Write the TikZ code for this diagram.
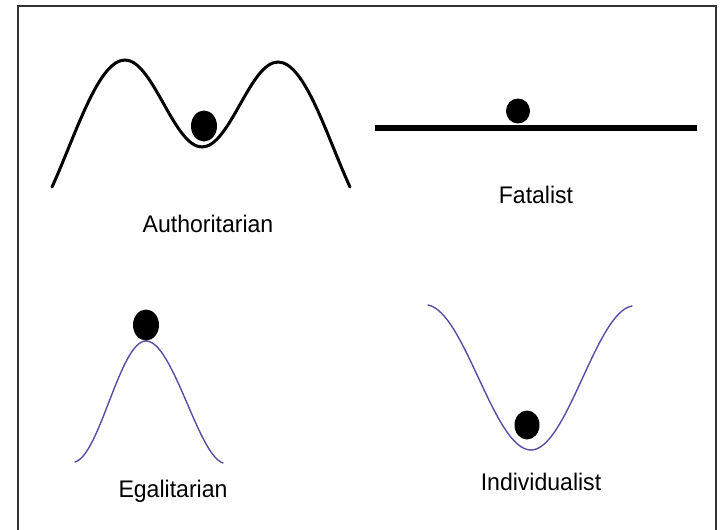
\documentclass[tikz,border=0pt]{standalone}
\usepackage{fontspec}
\setmainfont{Liberation Sans}
\usetikzlibrary{shapes.geometric}
\definecolor{wavecol}{RGB}{88,78,165}
\definecolor{framecol}{RGB}{50,50,50}
\tikzset{
  frameline/.style={draw=framecol, line width=2pt},
  authcurve/.style={draw=black, line width=3pt, line cap=round},
  thincurve/.style={draw=wavecol, line width=1.4pt, line cap=round},
  ball/.style={ellipse, fill=black, inner sep=0pt},
  lbl/.style={anchor=base, inner sep=0pt, font=\fontsize{24}{28}\selectfont}
}
\newcommand{\lbltext}[1]{\scalebox{0.96}[1]{#1}}
\begin{document}
\begin{tikzpicture}[x=1pt,y=-1pt]
\useasboundingbox (0,0) rectangle (723,530);
\fill[white] (0,0) rectangle (723,530);
% frame (open at bottom)
\draw[frameline] (18,530) -- (18,6) -- (716,6) -- (716,530);

% Authoritarian
\draw[authcurve] (52,187) .. controls (75,137) and (98,60) .. (125,60)
  .. controls (153,60) and (174,147) .. (202,147)
  .. controls (230,147) and (250,62) .. (278,62)
  .. controls (305,62) and (327,137) .. (350,187);
\node[ball, minimum width=26pt, minimum height=31pt] (ballA) at (204,126) {};
\node[lbl] (labA) at (208,232) {\lbltext{Authoritarian}};

% Fatalist
\draw[line width=6pt] (375,128) -- (697,128);
\node[ball, minimum width=24pt, minimum height=25pt] (ballF) at (518,111) {};
\node[lbl] (labF) at (536,203) {\lbltext{Fatalist}};

% Egalitarian
\draw[thincurve] (75,462) .. controls (100,455) and (120,341) .. (146,341)
  .. controls (173,341) and (198,455) .. (223,463);
\node[ball, minimum width=26pt, minimum height=31pt] (ballE) at (146,325) {};
\node[lbl] (labE) at (173,497) {\lbltext{Egalitarian}};

% Individualist
\draw[thincurve] (428,305) .. controls (465,312) and (494,450) .. (531,450)
  .. controls (567,450) and (596,312) .. (632,306);
\node[ball, minimum width=25pt, minimum height=29pt] (ballI) at (527,425) {};
\node[lbl] (labI) at (541,490) {\lbltext{Individualist}};
\end{tikzpicture}
\end{document}
